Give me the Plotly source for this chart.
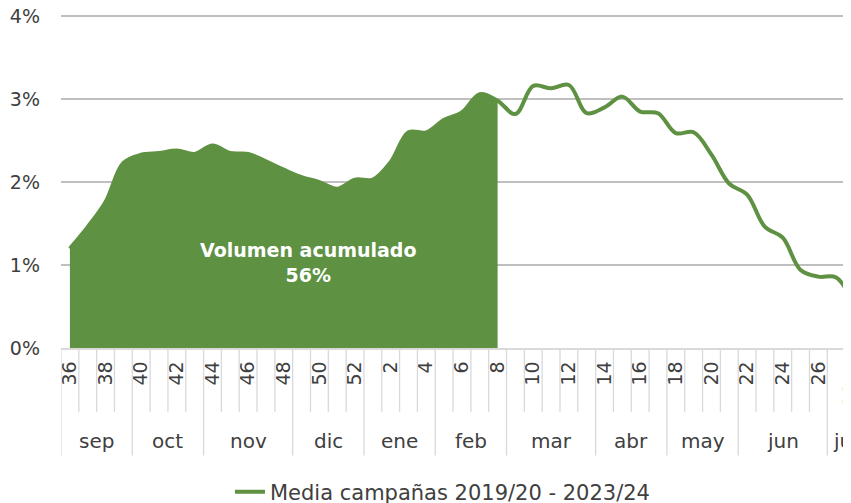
import plotly.graph_objects as go

weeks = [36, 37, 38, 39, 40, 41, 42, 43, 44, 45, 46, 47, 48, 49, 50, 51, 52,
         1, 2, 3, 4, 5, 6, 7, 8, 9, 10, 11, 12, 13, 14, 15, 16, 17, 18, 19, 20,
         21, 22, 23, 24, 25, 26, 27, 28]
values = [1.20, 1.46, 1.76, 2.23, 2.33, 2.35, 2.38, 2.34, 2.44, 2.35, 2.34, 2.25, 2.15,
          2.06, 2.00, 1.92, 2.03, 2.03, 2.24, 2.60, 2.60, 2.75, 2.84, 3.06, 2.98,
          2.82, 3.16, 3.13, 3.17, 2.83, 2.90, 3.03, 2.85, 2.83, 2.59, 2.60, 2.33,
          1.98, 1.85, 1.46, 1.33, 0.94, 0.86, 0.85, 0.52]
months = ["sep", "oct", "nov", "dic", "ene", "feb", "mar", "abr", "may", "jun", "jul"]
month_weeks = [4, 4, 5, 4, 4, 4, 5, 4, 4, 5, 2]
y_ticks = [0, 1, 2, 3, 4]
y_ticktext = ["0%", "1%", "2%", "3%", "4%"]
series_name = "Media campañas 2019/20 - 2023/24"
fill_last_week = 8
annotation_text = "Volumen acumulado<br>56%"

GREEN = "#5E9142"
FONT = "DejaVu Sans"
TXT = "#404040"
idx = list(range(len(weeks)))
n_fill = weeks.index(fill_last_week) + 1
X_MAX = 43.83

fig = go.Figure()
fig.add_trace(go.Scatter(
    x=idx[:n_fill], y=values[:n_fill], mode="lines",
    line=dict(color=GREEN, width=1, shape="spline", smoothing=1.0),
    fill="tozeroy", fillcolor=GREEN, showlegend=False, hoverinfo="skip"))
fig.add_trace(go.Scatter(
    x=idx, y=values, mode="lines", name=series_name,
    line=dict(color=GREEN, width=4, shape="spline", smoothing=1.0)))

# category boundary ticks and month dividers
shapes = []
boundaries_month = set()
acc = 0
for c in month_weeks:
    boundaries_month.add(acc)
    acc += c
boundaries_month.add(acc)
for b in range(len(weeks) + 1):
    is_month = b in boundaries_month
    shapes.append(dict(type="line", xref="x", yref="paper",
                       x0=b - 0.5, x1=b - 0.5, y0=0,
                       y1=-0.32 if is_month else -0.19,
                       line=dict(color="#D9D9D9", width=1.3)))

annotations = []
acc = 0
for m, c in zip(months, month_weeks):
    center = acc + (c - 1) / 2
    annotations.append(dict(x=center, y=-0.277, xref="x", yref="paper",
                            text=m, showarrow=False,
                            font=dict(family=FONT, size=20, color=TXT),
                            xanchor="center", yanchor="middle"))
    acc += c

# even-week tick labels beyond the visible range (cut at the right edge)
even_idx = [i for i, w in enumerate(weeks) if w % 2 == 0]
for i in even_idx:
    if i > X_MAX:
        annotations.append(dict(x=i - 0.25, y=-0.10, xref="x", yref="paper",
                                text=str(weeks[i]), showarrow=False, textangle=-90,
                                font=dict(family=FONT, size=19, color=TXT),
                                xanchor="center", yanchor="top"))

annotations.append(dict(x=13.36, y=1.03, xref="x", yref="y", text=annotation_text,
                        showarrow=False, align="center",
                        font=dict(family=FONT, size=19, color="white", weight="bold")))

fig.update_layout(
    width=843, height=495,
    margin=dict(l=53, r=0, t=4, b=155, autoexpand=False),
    paper_bgcolor="white", plot_bgcolor="white",
    font=dict(family=FONT, size=19, color=TXT),
    shapes=shapes, annotations=annotations,
    showlegend=True,
    legend=dict(orientation="h", x=0.4835, xanchor="center", y=-0.4286,
                yanchor="middle", font=dict(family=FONT, size=21, color=TXT),
                bgcolor="rgba(0,0,0,0)"),
    xaxis=dict(range=[-0.5, X_MAX], tickmode="array",
               tickvals=even_idx, ticktext=[str(weeks[i]) for i in even_idx],
               tickangle=-90, ticks="", showgrid=False, zeroline=False,
               showline=True, linecolor="#D9D9D9", linewidth=1.5,
               tickfont=dict(family=FONT, size=19, color=TXT),
               ticklabelstandoff=4, automargin=False, ticklabeloverflow="allow"),
    yaxis=dict(range=[0, 4.05], tickmode="array", tickvals=y_ticks,
               ticktext=y_ticktext, showgrid=True, gridcolor="#BFBFBF",
               gridwidth=1.5, zeroline=False, ticks="",
               tickfont=dict(family=FONT, size=19, color=TXT),
               ticklabelstandoff=20, automargin=False, ticklabeloverflow="allow"),
)

fig.write_html("out.html")
